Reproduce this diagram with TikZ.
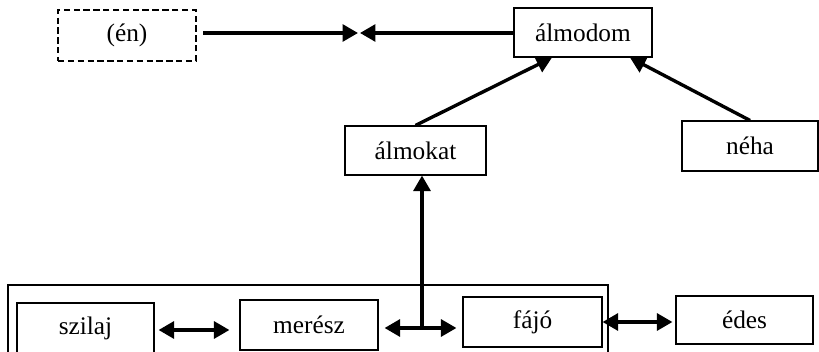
\documentclass[tikz,border=0pt]{standalone}
\usepackage{fontspec}
\setmainfont{Liberation Serif}
\usetikzlibrary{arrows.meta,calc}
\tikzset{
  word/.style={draw, line width=0.8pt, inner sep=0pt, font=\fontsize{18}{20}\selectfont},
  arr/.style={line width=2.4pt, -{Triangle[length=11pt,width=12pt]}},
  dbl/.style={line width=2.4pt, {Triangle[length=11pt,width=12pt]}-{Triangle[length=11pt,width=12pt]}}
}
\begin{document}
\begin{tikzpicture}[x=0.025cm,y=-0.025cm]
	\useasboundingbox (0,0) rectangle (819,352);
	% top row
	\node[word, line width=1.6pt, dash pattern=on 4.5pt off 2.5pt, minimum width=3.45cm, minimum height=1.275cm] (en) at (127,35.5) {(én)};
	\node[word, minimum width=3.45cm, minimum height=1.225cm] (almodom) at (583,32.5) {álmodom};
	\node[word, minimum width=3.525cm, minimum height=1.225cm] (almokat) at (415.5,150.5) {álmokat};
	\node[word, minimum width=3.4cm, minimum height=1.25cm] (neha) at (750,146) {néha};
	% bottom row
	\draw[line width=0.8pt] (8,352) -- (8,285) -- (608,285) -- (608,352);
	\node[word, minimum width=3.425cm, minimum height=1.25cm] (szilaj) at (85.5,328) {szilaj};
	\node[word, minimum width=3.45cm, minimum height=1.25cm] (meresz) at (309,325) {merész};
	\node[word, minimum width=3.475cm, minimum height=1.25cm] (fajo) at (532.5,322) {fájó};
	\node[word, minimum width=3.425cm, minimum height=1.2cm] (edes) at (744.5,320) {édes};
	\coordinate (meetL) at (358,33);
	\coordinate (meetR) at (360,33);
	\coordinate (jn) at (422,328);
	\draw[arr, shorten <=0.15cm] (en.east |- meetL) -- (meetL);
	\draw[arr] (almodom.west |- meetR) -- (meetR);
	\draw[arr] (almokat.north) -- ($(almodom.south)+(-31,0)$);
	\draw[arr] (neha.north) -- ($(almodom.south)+(47,0)$);
	\draw[arr] (jn) -- (jn |- almokat.south);
	\draw[dbl, shorten <=0.1cm, shorten >=0.25cm] ($(szilaj.east)+(0,2)$) -- ($(meresz.west)+(0,5)$);
	\draw[dbl, shorten <=0.15cm, shorten >=0.15cm] (meresz.east |- jn) -- (fajo.west |- jn);
	\draw[dbl, shorten >=0.075cm] (fajo.east) -- (edes.west |- fajo.east);
\end{tikzpicture}
\end{document}
